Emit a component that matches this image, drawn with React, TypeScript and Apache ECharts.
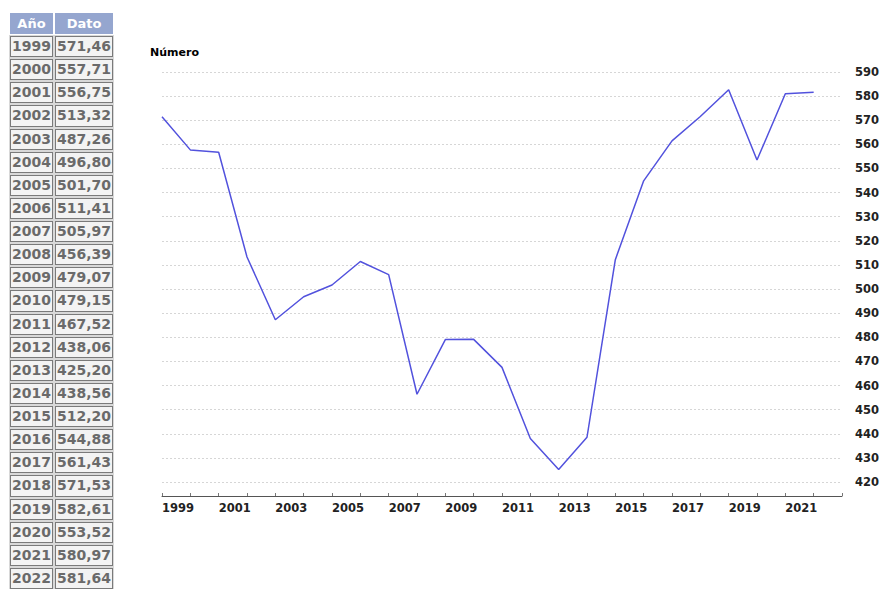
import React, { useEffect, useRef } from "react";
import * as echarts from "echarts";

const years: number[] = [
  1999, 2000, 2001, 2002, 2003, 2004, 2005, 2006, 2007, 2008, 2009, 2010,
  2011, 2012, 2013, 2014, 2015, 2016, 2017, 2018, 2019, 2020, 2021, 2022,
];
const values: number[] = [
  571.46, 557.71, 556.75, 513.32, 487.26, 496.8, 501.7, 511.41, 505.97, 456.39,
  479.07, 479.15, 467.52, 438.06, 425.2, 438.56, 512.2, 544.88, 561.43, 571.53,
  582.61, 553.52, 580.97, 581.64,
];
const yTicks: number[] = [
  420, 430, 440, 450, 460, 470, 480, 490, 500, 510, 520, 530, 540, 550, 560,
  570, 580, 590,
];
const headers: string[] = ["Año", "Dato"];
const yName = "Número";

const fmt = (v: number) => v.toFixed(2).replace(".", ",");

export default function App() {
  const ref = useRef<HTMLDivElement>(null);
  useEffect(() => {
    if (!ref.current) return;
    const chart = echarts.init(ref.current, undefined, { renderer: "svg" });
    chart.setOption({
      animation: false,
      title: {
        text: yName,
        left: 145,
        top: 42,
        textStyle: {
          fontFamily: "DejaVu Sans",
          fontSize: 11,
          fontWeight: "bold",
          color: "#000",
        },
      },
      grid: { left: 162, right: 37, top: 72, bottom: 93, containLabel: false },
      xAxis: {
        type: "value",
        min: 1999,
        max: 2023,
        interval: 2,
        axisLine: { show: true, lineStyle: { color: "#555", width: 1 } },
        axisTick: { show: true, inside: true, length: 3, lineStyle: { color: "#777" } },
        minorTick: { show: true, splitNumber: 2, length: 3, lineStyle: { color: "#777" } },
        splitLine: { show: false },
        axisLabel: {
          align: "left",
          margin: 6,
          fontFamily: "DejaVu Sans",
          fontSize: 11.5,
          fontWeight: "bold",
          color: "#222",
          formatter: (v: number) => (v >= 2023 ? "" : String(v)),
        },
      },
      yAxis: {
        type: "value",
        position: "right",
        min: 414.2,
        max: 590,
        axisLine: { show: false },
        axisTick: { show: false, customValues: yTicks },
        splitLine: { show: false },
        axisLabel: {
          customValues: yTicks,
          margin: 13,
          align: "left",
          fontFamily: "DejaVu Sans",
          fontSize: 11.5,
          fontWeight: "bold",
          color: "#222",
        },
      },
      series: [
        {
          type: "line",
          data: years.map((y, i) => [y, values[i]]),
          showSymbol: false,
          symbol: "none",
          lineStyle: { color: "#5252dd", width: 1.5 },
          markLine: {
            silent: true,
            symbol: "none",
            label: { show: false },
            lineStyle: { color: "#d6d6d6", type: [2, 2], width: 1 },
            data: yTicks.map((v) => ({ yAxis: v })),
            z: 1,
          },
        },
      ],
    });
    return () => chart.dispose();
  }, []);

  const cell: React.CSSProperties = {
    border: "1px solid #7a7a7a",
    outline: "1px solid #d8d8d8",
    background: "#f3f3f3",
    color: "#6a6a6a",
    fontFamily: "DejaVu Sans",
    fontWeight: "bold",
    fontSize: 14,
    padding: "1px 1px",
    height: 17.13,
    lineHeight: "17px",
    textAlign: "left",
    whiteSpace: "nowrap",
  };
  const head: React.CSSProperties = {
    background: "#95a6cf",
    color: "#fff",
    fontFamily: "DejaVu Sans",
    fontWeight: "bold",
    fontSize: 13,
    padding: "1px 1px",
    height: 17,
    lineHeight: "17px",
    textAlign: "center",
    border: "1px solid #95a6cf",
  };

  return (
    <div style={{ position: "absolute", left: 0, top: 0, width: 882, height: 589, background: "#fff" }}>
      <div ref={ref} style={{ position: "absolute", left: 0, top: 0, width: 882, height: 589 }} />
      <table
        style={{
          position: "absolute",
          left: 8,
          top: 11,
          borderCollapse: "separate",
          borderSpacing: "2px",
        }}
      >
        <thead>
          <tr>
            {headers.map((h) => (
              <th key={h} style={head}>
                {h}
              </th>
            ))}
          </tr>
        </thead>
        <tbody>
          {years.map((y, i) => (
            <tr key={y}>
              <td style={cell}>{y}</td>
              <td style={cell}>{fmt(values[i])}</td>
            </tr>
          ))}
        </tbody>
      </table>
    </div>
  );
}
